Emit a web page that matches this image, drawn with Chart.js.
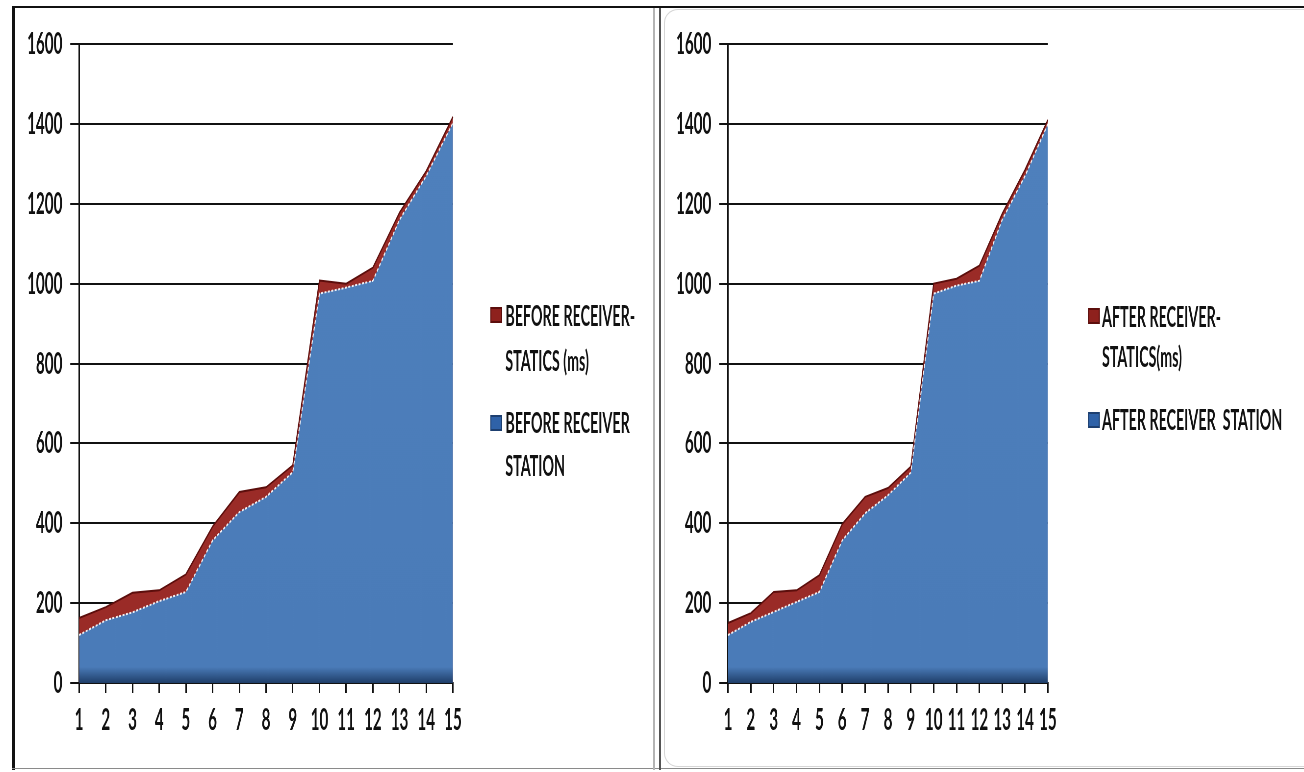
<!DOCTYPE html>
<html>
<head>
<meta charset="utf-8">
<script src="https://cdn.jsdelivr.net/npm/chart.js@4/dist/chart.umd.min.js"></script>
<style>
  html, body { margin: 0; padding: 0; background: #fff; width: 1304px; height: 772px; overflow: hidden; position: relative; }
  .panel { position: absolute; top: 0; height: 772px; transform-origin: 0 0; }
  .rule { position: absolute; }
</style>
</head>
<body>
<!-- frame lines around the two panels -->
<div class="rule" style="left:12px;top:6px;width:1292px;height:2px;background:#111"></div>
<div class="rule" style="left:12px;top:6px;width:3px;height:764px;background:#111"></div>
<div class="rule" style="left:12px;top:768px;width:1292px;height:1px;background:#8a8a8a"></div>
<div class="rule" style="left:653px;top:8px;width:2px;height:762px;background:#b4b4b4"></div>
<div class="rule" style="left:659px;top:8px;width:2px;height:762px;background:#555"></div>
<div class="rule" style="left:664px;top:9px;width:640px;height:756px;border:1px solid #d6d6d6;border-right:none;border-radius:14px 0 0 14px"></div>

<div id="leftWrap" class="panel"><canvas id="leftChart"></canvas></div>
<div id="rightWrap" class="panel"><canvas id="rightChart"></canvas></div>

<script>
// Station numbers along the x axis
const categories = ['1','2','3','4','5','6','7','8','9','10','11','12','13','14','15'];
// Value axis ticks
const yTicks = [0, 200, 400, 600, 800, 1000, 1200, 1400, 1600];

// Before receiver statics
const beforeStatics = [163, 190, 226, 232, 272, 392, 478, 490, 545, 1008, 1000, 1040, 1178, 1282, 1418];
const beforeStation = [120, 157, 177, 205, 228, 357, 428, 466, 528, 975, 990, 1007, 1160, 1270, 1403];

// After receiver statics
const afterStatics = [150, 175, 228, 232, 270, 398, 466, 488, 542, 1000, 1012, 1045, 1175, 1285, 1410];
const afterStation = [120, 153, 178, 203, 228, 357, 425, 470, 527, 975, 995, 1007, 1160, 1270, 1400];

// Series names (line breaks as shown in the legend)
const beforeNames = ['BEFORE RECEIVER-\nSTATICS (ms)', 'BEFORE RECEIVER\nSTATION'];
const afterNames = ['AFTER RECEIVER-\nSTATICS(ms)', 'AFTER RECEIVER  STATION'];

// The whole panel is drawn wide and squeezed horizontally
const SQUEEZE = 0.49;
const FONT = '"Lato", "DejaVu Sans", sans-serif';
const TEXT = '#111';

const RED = '#9a2b27';
const RED_EDGE = '#5c0e0c';

function blueFill(ctx) {
  const chart = ctx.chart;
  const a = chart.chartArea;
  if (!a) return '#4f81bd';
  const g = chart.ctx.createLinearGradient(0, a.top, 0, a.bottom);
  g.addColorStop(0, '#4f81bd');
  g.addColorStop(0.975, '#4a7bb8');
  g.addColorStop(1, '#1f3e69');
  return g;
}

const legendPlugin = {
  id: 'sideLegend',
  afterDraw(chart, args, opts) {
    const ctx = chart.ctx;
    ctx.save();
    ctx.font = 'bold 28px ' + FONT;
    ctx.textBaseline = 'alphabetic';
    ctx.textAlign = 'left';
    chart.data.datasets.forEach((ds, i) => {
      const row = opts.rows[i];
      const sw = ds.swatch;
      ctx.fillStyle = sw[0];
      ctx.fillRect(opts.markX, row.mark - 8, 24, 16);
      ctx.strokeStyle = sw[1];
      ctx.lineWidth = 2;
      ctx.strokeRect(opts.markX + 1, row.mark - 7, 22, 14);
      ctx.fillStyle = TEXT;
      ds.label.split('\n').forEach((line, k) => {
        ctx.save();
        ctx.translate(opts.textX, row.lines[k] + 10);
        ctx.scale(1.04, 1);
        ctx.fillText(line, 0, 0);
        ctx.restore();
      });
    });
    ctx.restore();
  }
};

function makeChart(canvasId, wrapId, cfg) {
  const wrap = document.getElementById(wrapId);
  wrap.style.left = cfg.left + 'px';
  wrap.style.width = cfg.width + 'px';
  wrap.style.transform = 'scaleX(' + SQUEEZE + ')';
  const canvas = document.getElementById(canvasId);
  canvas.width = cfg.width;
  canvas.height = 772;
  canvas.style.width = cfg.width + 'px';
  canvas.style.height = '772px';

  const tickFont = { family: FONT, size: 31, weight: 'bold' };

  return new Chart(canvas, {
    type: 'line',
    data: {
      labels: categories,
      datasets: [
        {
          label: cfg.names[0],
          data: cfg.statics,
          fill: 'origin',
          backgroundColor: RED,
          borderColor: RED_EDGE,
          borderWidth: 2,
          pointRadius: 0,
          tension: 0,
          order: 2,
          swatch: ['#8e211d', '#5c0e0c']
        },
        {
          label: cfg.names[1],
          data: cfg.station,
          fill: 'origin',
          backgroundColor: blueFill,
          borderColor: 'rgba(255,255,255,0.9)',
          borderWidth: 2,
          borderDash: [4, 3],
          pointRadius: 0,
          tension: 0,
          order: 1,
          swatch: ['#2f62a8', '#1d3f70']
        }
      ]
    },
    options: {
      responsive: false,
      animation: false,
      devicePixelRatio: 1,
      layout: { padding: { left: 0, right: cfg.width - cfg.plotRight, top: 44, bottom: 0 } },
      plugins: {
        legend: { display: false },
        tooltip: { enabled: false },
        sideLegend: { markX: cfg.markX, textX: cfg.textX, rows: cfg.rows }
      },
      scales: {
        x: {
          type: 'category',
          offset: false,
          grid: { drawOnChartArea: false, drawTicks: true, tickLength: 10, color: '#111', lineWidth: 3 },
          border: { display: true, color: '#111', width: 2 },
          ticks: { font: tickFont, color: TEXT, padding: 8, maxRotation: 0, autoSkip: false },
          afterFit(s) { s.height = 772 - 683; }
        },
        y: {
          min: 0,
          max: 1600,
          grid: { color: '#111', lineWidth: 2, tickLength: 18, drawTicks: true },
          border: { display: true, color: '#111', width: 3 },
          ticks: { font: tickFont, color: TEXT, padding: 16, callback: v => String(v) },
          afterBuildTicks(s) { s.ticks = yTicks.map(v => ({ value: v })); },
          afterFit(s) { s.width = cfg.axisX; }
        }
      }
    },
    plugins: [legendPlugin]
  });
}

function drawAll() {
  makeChart('leftChart', 'leftWrap', {
    left: 0,
    width: 655 / SQUEEZE,
    axisX: 79 / SQUEEZE,
    plotRight: 453 / SQUEEZE,
    markX: 490 / SQUEEZE,
    textX: 505 / SQUEEZE,
    rows: [{ mark: 315, lines: [316, 361] }, { mark: 423, lines: [423, 466] }],
    names: beforeNames,
    statics: beforeStatics,
    station: beforeStation
  });
  makeChart('rightChart', 'rightWrap', {
    left: 662,
    width: (1304 - 662) / SQUEEZE,
    axisX: (728 - 662) / SQUEEZE,
    plotRight: (1048 - 662) / SQUEEZE,
    markX: (1088 - 662) / SQUEEZE,
    textX: (1102 - 662) / SQUEEZE,
    rows: [{ mark: 316, lines: [317, 357] }, { mark: 420, lines: [420] }],
    names: afterNames,
    statics: afterStatics,
    station: afterStation
  });
}

if (document.fonts && document.fonts.load) {
  Promise.all([document.fonts.load('28px Lato'), document.fonts.load('bold 28px Lato')]).then(drawAll, drawAll);
} else {
  drawAll();
}
</script>
</body>
</html>
